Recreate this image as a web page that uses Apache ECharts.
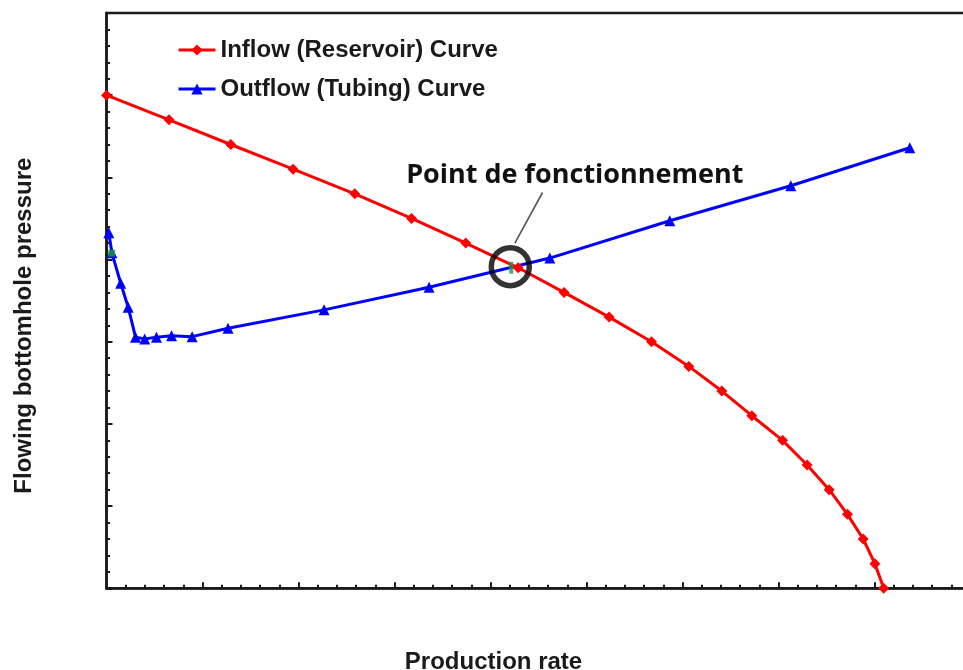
<!DOCTYPE html>
<html>
<head>
<meta charset="utf-8">
<script src="https://cdn.jsdelivr.net/npm/echarts@6/dist/echarts.min.js"></script>
<style>
  html, body { margin: 0; padding: 0; background: #ffffff; }
  #chart { width: 963px; height: 670px; }
</style>
</head>
<body>
<div id="chart"></div>
<script>
// Inflow performance (reservoir): production rate vs flowing bottomhole pressure
const inflowRate     = [0, 3.26, 6.47, 9.72, 12.93, 15.89, 18.71, 21.44, 23.83, 26.18, 28.39,
                        30.33, 32.05, 33.61, 35.21, 36.49, 37.64, 38.59, 39.41, 40.02, 40.48];
const inflowPressure = [30, 28.5, 27, 25.5, 24, 22.5, 21, 19.5, 18, 16.5, 15,
                        13.5, 12, 10.5, 9, 7.5, 6, 4.5, 3, 1.5, 0];

// Outflow performance (tubing)
const outflowRate     = [0.12, 0.28, 0.74, 1.13, 1.51, 1.99, 2.60, 3.39, 4.46, 6.33,
                         11.33, 16.80, 23.09, 29.34, 35.64, 41.84];
const outflowPressure = [21.63, 20.41, 18.56, 17.10, 15.28, 15.17, 15.28, 15.37, 15.31, 15.82,
                         16.94, 18.32, 20.09, 22.36, 24.49, 26.80];

// Small green marks on the curves
const greenRate     = [0.27, 21.08];
const greenPressure = [20.39, 19.50];

// Operating point (intersection of both curves) and its callout
const operatingPoint = [21.03, 19.57];
const calloutFrom    = [22.71, 24.08];
const calloutTo      = [21.27, 21.00];
const calloutText    = 'Point de fonctionnement';
const calloutAnchor  = [24.39, 25.15];

const seriesNames = ['Inflow (Reservoir) Curve', 'Outflow (Tubing) Curve'];
const axisNames   = { x: 'Production rate', y: 'Flowing bottomhole pressure' };

const zip = (xs, ys) => xs.map((x, i) => [x, ys[i]]);

const ink = '#1a1a1a';
const tickLine = { color: ink, width: 2 };
const titleFont = { fontFamily: 'Liberation Sans', fontWeight: 'bold', fontSize: 24, color: ink };

const chart = echarts.init(document.getElementById('chart'), null, { renderer: 'canvas' });

const greenSizes = [[7, 7], [4, 12]];

chart.setOption({
  animation: false,
  backgroundColor: '#ffffff',
  grid: {
    left: 106.5, top: 13, width: 864, height: 575.3,
    outerBoundsMode: 'none',
    containLabel: false,
    show: true, borderColor: ink, borderWidth: 2.5, backgroundColor: 'transparent'
  },
  legend: {
    orient: 'vertical',
    left: 177, top: 38, padding: 0,
    itemWidth: 37, itemHeight: 14, itemGap: 15,
    data: seriesNames,
    lineStyle: { width: 3 },
    textStyle: { fontFamily: 'Liberation Sans', fontWeight: 'bold', fontSize: 24, color: ink }
  },
  xAxis: {
    type: 'value', min: 0, max: 45, interval: 5,
    name: axisNames.x, nameLocation: 'middle', nameGap: 62,
    nameTextStyle: Object.assign({ padding: [0, 90, 0, 0] }, titleFont),
    axisLine: { show: true, onZero: false, lineStyle: { color: ink, width: 2.5 } },
    axisTick: { show: true, inside: true, length: 6, lineStyle: tickLine },
    minorTick: { show: true, splitNumber: 5, length: 3.5, lineStyle: tickLine },
    axisLabel: { show: false },
    splitLine: { show: false }
  },
  yAxis: {
    type: 'value', min: 0, max: 35, interval: 5,
    name: axisNames.y, nameLocation: 'middle', nameGap: 70,
    nameTextStyle: Object.assign({ padding: [0, 50, 0, 0] }, titleFont),
    axisLine: { show: true, onZero: false, lineStyle: { color: ink, width: 2.5 } },
    axisTick: { show: true, inside: true, length: 6, lineStyle: tickLine },
    minorTick: { show: true, splitNumber: 5, length: 3.5, lineStyle: tickLine },
    axisLabel: { show: false },
    splitLine: { show: false }
  },
  series: [
    {
      name: seriesNames[1],
      type: 'line',
      data: zip(outflowRate, outflowPressure),
      symbol: 'triangle', symbolSize: 11,
      clip: false, z: 2,
      lineStyle: { color: '#0000ff', width: 3 },
      itemStyle: { color: '#0000ff' }
    },
    {
      name: seriesNames[0],
      type: 'line',
      data: zip(inflowRate, inflowPressure),
      symbol: 'diamond', symbolSize: 11,
      clip: false, z: 3,
      lineStyle: { color: '#ff0000', width: 3 },
      itemStyle: { color: '#ff0000' }
    },
    {
      type: 'scatter',
      data: zip(greenRate, greenPressure).map((v, i) => ({ value: v, symbolSize: greenSizes[i] })),
      symbol: 'rect', z: 4, silent: true,
      itemStyle: { color: '#1f9a3c' }
    },
    {
      type: 'scatter',
      data: [operatingPoint],
      symbol: 'circle', symbolSize: 38, z: 6, silent: true,
      itemStyle: { color: 'rgba(0,0,0,0)', borderColor: '#000000', borderWidth: 5.5 },
      markLine: {
        silent: true, symbol: ['none', 'none'],
        label: { show: false },
        lineStyle: { color: '#555555', width: 1.6, type: 'solid' },
        data: [[{ coord: calloutFrom }, { coord: calloutTo }]]
      }
    }
  ]
});

// Callout text anchored at a data position
const anchorPx = chart.convertToPixel({ gridIndex: 0 }, calloutAnchor);
chart.setOption({
  graphic: [{
    type: 'text',
    x: anchorPx[0], y: anchorPx[1],
    silent: true,
    style: {
      text: calloutText,
      fontFamily: 'Open Sans', fontWeight: 'bold', fontSize: 27,
      fill: '#111111', align: 'center', verticalAlign: 'middle'
    }
  }]
});
</script>
</body>
</html>
